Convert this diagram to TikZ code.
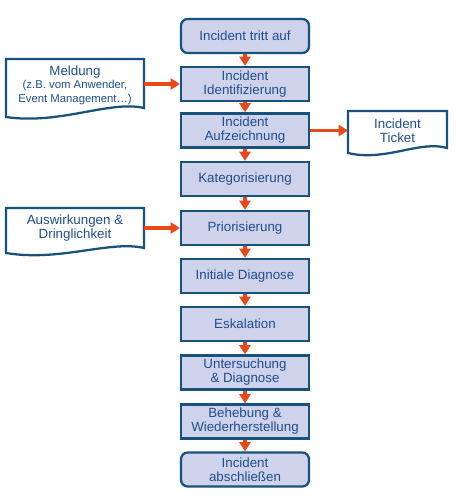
\documentclass[tikz,border=0pt]{standalone}
\usepackage{fontspec}
\setmainfont{Liberation Sans}
\usetikzlibrary{arrows.meta,calc}
\definecolor{boxfill}{RGB}{206,210,234}
\definecolor{boxline}{RGB}{24,82,122}
\definecolor{boxtext}{RGB}{30,78,140}
\definecolor{arrcol}{RGB}{230,74,25}
\newcommand{\smallfnt}{\fontsize{8.5}{9.4}\selectfont}
\begin{document}
\begin{tikzpicture}[x=0.75pt,y=-0.75pt,
  procbox/.style={draw=boxline,fill=boxfill,line width=1.7pt,minimum width=96pt,minimum height=25.5pt,
    text=boxtext,align=center,inner sep=1pt,font=\fontsize{10}{10.5}\selectfont},
  endbox/.style={procbox,rounded corners=5pt},
  docnode/.style={inner sep=0pt,text=boxtext,align=center,font=\fontsize{10}{10.5}\selectfont},
  docline/.style={draw=boxline,line width=1.7pt,fill=white,line join=miter},
  arr/.style={draw=arrcol,line width=2.3pt,-{Triangle[length=7pt,width=8.5pt]}}]
\useasboundingbox (0,0) rectangle (457,500);
% process boxes
\node[endbox]  (b1)  at (245,36)    {Incident tritt auf};
\node[procbox] (b2)  at (245,84)    {Incident\\Identifizierung};
\node[procbox] (b3)  at (245,130.5) {Incident\\Aufzeichnung};
\node[procbox] (b4)  at (245,179)   {Kategorisierung};
\node[procbox] (b5)  at (245,228)   {Priorisierung};
\node[procbox] (b6)  at (245,276)   {Initiale Diagnose};
\node[procbox] (b7)  at (245,324)   {Eskalation};
\node[procbox] (b8)  at (245,372.5) {Untersuchung\\\& Diagnose};
\node[procbox] (b9)  at (245,421.5) {Behebung \&\\Wiederherstellung};
\node[endbox]  (b10) at (245,469.5) {Incident\\abschließen};
% document shapes
\path[docline] (6,117) -- (6,59) -- (144,59) -- (144,108)
  .. controls (110,100) and (60,125) .. (6,117) -- cycle;
\node[docnode,minimum width=103.5pt,minimum height=39pt] (meld) at (75,85.5)
  {Meldung\\[-1pt]\smallfnt (z.B. vom Anwender,\\\smallfnt Event Management\dots)};
\path[docline] (348,153) -- (348,111) -- (447,111) -- (447,148)
  .. controls (420,140) and (385,162) .. (348,153) -- cycle;
\node[docnode,minimum width=74pt,minimum height=29pt] (tick) at (397.5,130.5) {Incident\\Ticket};
\path[docline] (6,253) -- (6,208) -- (144,208) -- (144,248)
  .. controls (110,240) and (60,262) .. (6,253) -- cycle;
\node[docnode,minimum width=103.5pt,minimum height=30pt] (ausw) at (75,228) {Auswirkungen \&\\Dringlichkeit};
% connectors
\foreach \a/\b in {b1/b2,b2/b3,b3/b4,b4/b5,b5/b6,b6/b7,b7/b8,b8/b9,b9/b10}
  \draw[arr] (\a.south) -- (\b.north);
\draw[arr] (b2.west -| meld.east) -- (b2.west);
\draw[arr] (b5.west -| ausw.east) -- (b5.west);
\draw[arr] (b3.east) -- (b3.east -| tick.west);
\end{tikzpicture}
\end{document}
